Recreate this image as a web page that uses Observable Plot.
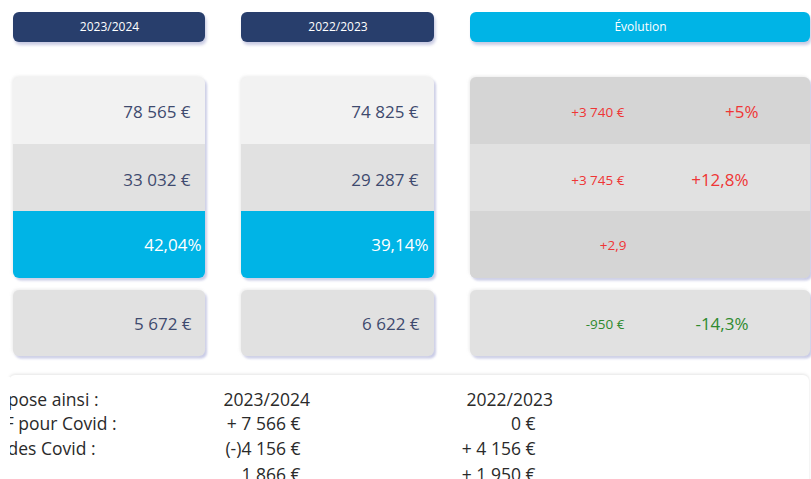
<!DOCTYPE html>
<html><head><meta charset="utf-8">
<script src="https://cdn.jsdelivr.net/npm/d3@7"></script>
<script src="https://cdn.jsdelivr.net/npm/@observablehq/plot@0.6"></script>
<style>html,body{margin:0;padding:0;background:#fff;overflow:hidden}</style>
</head><body><div id="chart"></div>
<script>
// ---- data ----
const periods = ["2023/2024", "2022/2023"];
const evolutionLabel = "Évolution";
const chiffreAffaires = [78565, 74825];
const marge = [33032, 29287];
const tauxMarge = [42.04, 39.14];
const resultat = [5672, 6622];
const detailLabels = ["pose ainsi :", "F pour Covid :", "des Covid :", ""];
const detail2324 = ["2023/2024", "+ 7 566 €", "(-)4 156 €", "1 866 €"];
const detail2223 = ["2022/2023", "0 €", "+ 4 156 €", "+ 1 950 €"];

// ---- formatting ----
const fr = d3.formatLocale({decimal: ",", thousands: " ", grouping: [3], currency: ["", " €"], minus: "-"});
const eur = fr.format(",d");
const signedEur = fr.format("+,d");
const signed1 = fr.format("+.1~f");

// ---- layout (positions & styles) ----
const cols = [{x1: 13, x2: 205}, {x1: 241, x2: 434}, {x1: 470, x2: 810}];
const rowY = [77, 144, 211, 278];
const card2 = {y1: 290, y2: 356};
const rowMid = [112, 180, 245, 324];
const navy = "#283e6c", cyan = "#00b4e6";
const textNavy = "#3e4a6e";
const red = "#ef3535", green = "#2f8a2f";
const rowFill = ["#f2f2f2", "#e1e1e1", cyan];
const evoFill = ["#d5d5d5", "#e1e1e1", "#d5d5d5"];
const valRight = [190, 418];
const pctRight = [201, 428];
const evoAbsRight = [624, 624, 626, 624];
const evoPctRight = [758, 748, 748, 748];

// header boxes
const headers = [
  {...cols[0], y1: 12, y2: 42, fill: navy, label: periods[0]},
  {...cols[1], y1: 12, y2: 42, fill: navy, label: periods[1]},
  {...cols[2], y1: 12, y2: 42, fill: cyan, label: evolutionLabel}
];

// cards
const cards = [];
cols.forEach((c) => {
  cards.push({...c, y1: rowY[0], y2: rowY[3]});
  cards.push({...c, ...card2});
});

const cellsRounded = [];
const cellsSquare = [];
cols.forEach((c, i) => {
  const fills = i < 2 ? rowFill : evoFill;
  cellsRounded.push({...c, y1: rowY[0], y2: rowY[3], fill: fills[0]});
  cellsSquare.push({...c, y1: rowY[1], y2: rowY[2], fill: fills[1]});
  cellsRounded.push({...c, y1: rowY[2], y2: rowY[3], fill: fills[2]});
  cellsSquare.push({...c, y1: rowY[2], y2: (rowY[2] + rowY[3]) / 2, fill: fills[2]});
  cellsRounded.push({...c, ...card2, fill: "#e1e1e1"});
});

// value texts
const values = [];
[0, 1].forEach(i => {
  values.push({x: valRight[i], y: rowMid[0], t: eur(chiffreAffaires[i]) + " €", fill: textNavy});
  values.push({x: valRight[i], y: rowMid[1], t: eur(marge[i]) + " €", fill: textNavy});
  values.push({x: pctRight[i], y: rowMid[2], t: fr.format(".2f")(tauxMarge[i]) + "%", fill: "#ffffff"});
  values.push({x: valRight[i] + 1, y: rowMid[3], t: eur(resultat[i]) + " €", fill: textNavy});
});

// evolution texts
const pairs = [chiffreAffaires, marge, tauxMarge, resultat];
const evoAbs = [], evoPct = [];
pairs.forEach((p, r) => {
  const d = p[0] - p[1];
  const col = d >= 0 ? red : green;
  const abs = r === 2 ? signed1(d) : signedEur(d) + " €";
  evoAbs.push({x: evoAbsRight[r], y: rowMid[r], t: abs, fill: col});
  if (r !== 2) evoPct.push({x: evoPctRight[r], y: rowMid[r], t: signed1(d / p[1] * 100) + "%", fill: col});
});

// detail table
const rowsY = [400, 424, 449, 475];
const labelRight = [98, 116, 95, 0];
const detailEnd = [], detailStart = [];
detailLabels.forEach((l, r) => {
  if (l) detailEnd.push({x: labelRight[r], y: rowsY[r], t: l});
  if (r === 0) {
    detailStart.push({x: 223, y: rowsY[r], t: detail2324[r]});
    detailStart.push({x: 466, y: rowsY[r], t: detail2223[r]});
  } else {
    detailEnd.push({x: 300, y: rowsY[r], t: detail2324[r]});
    detailEnd.push({x: 535, y: rowsY[r], t: detail2223[r]});
  }
});
const bottomCard = [{x1: 9, x2: 809, y1: 375, y2: 520}];
const leftMask = [{x1: 0, x2: 10, y1: 377, y2: 479}];

const chart = Plot.plot({
  width: 811, height: 479, margin: 0, axis: null,
  x: {type: "identity"}, y: {type: "identity"}, color: {type: "identity"},
  style: {fontFamily: "'Open Sans', 'Noto Sans', sans-serif", background: "#fff"},
  marks: [
    // shadows
    Plot.rect(headers, {x1: "x1", x2: "x2", y1: "y1", y2: "y2", rx: 6, dx: 1.5, dy: 3, fill: "#c9cbe3", imageFilter: "blur(1.5px)"}),
    Plot.rect(cards, {x1: "x1", x2: "x2", y1: "y1", y2: "y2", rx: 6, dx: 2, dy: 2.5, fill: "#c9cbe6", imageFilter: "blur(1.2px)"}),
    Plot.rect(cards, {x1: "x1", x2: "x2", y1: "y1", y2: "y2", rx: 6, dx: -1, dy: -1, fill: "#ececec", imageFilter: "blur(1.5px)"}),
    Plot.rect(bottomCard, {x1: "x1", x2: "x2", y1: "y1", y2: "y2", rx: 6, dy: -1, fill: "#e4e4e4", imageFilter: "blur(1.5px)"}),
    Plot.rect(bottomCard, {x1: "x1", x2: "x2", y1: "y1", y2: "y2", rx: 6, fill: "#ffffff"}),
    // header boxes
    Plot.rect(headers, {x1: "x1", x2: "x2", y1: "y1", y2: "y2", rx: 6, fill: "fill"}),
    Plot.text(headers, {x: d => (d.x1 + d.x2) / 2, y: d => (d.y1 + d.y2) / 2, text: "label", fill: "#ffffff", fontSize: 12}),
    // cells
    Plot.rect(cellsRounded, {x1: "x1", x2: "x2", y1: "y1", y2: "y2", rx: 6, fill: "fill"}),
    Plot.rect(cellsSquare, {x1: "x1", x2: "x2", y1: "y1", y2: "y2", fill: "fill"}),
    // values
    Plot.text(values, {x: "x", y: "y", text: "t", fill: "fill", textAnchor: "end", fontSize: 17}),
    Plot.text(evoAbs, {x: "x", y: "y", text: "t", fill: "fill", textAnchor: "end", fontSize: 13.5}),
    Plot.text(evoPct, {x: "x", y: "y", text: "t", fill: "fill", textAnchor: "end", fontSize: 17}),
    // detail table
    Plot.text(detailEnd, {x: "x", y: "y", text: "t", textAnchor: "end", fill: "#2a2a2a", fontSize: 17.5}),
    Plot.text(detailStart, {x: "x", y: "y", text: "t", textAnchor: "start", fill: "#2a2a2a", fontSize: 17.5}),
    Plot.rect(leftMask, {x1: "x1", x2: "x2", y1: "y1", y2: "y2", fill: "#ffffff"})
  ]
});
document.getElementById("chart").appendChild(chart);
</script>
</body></html>
